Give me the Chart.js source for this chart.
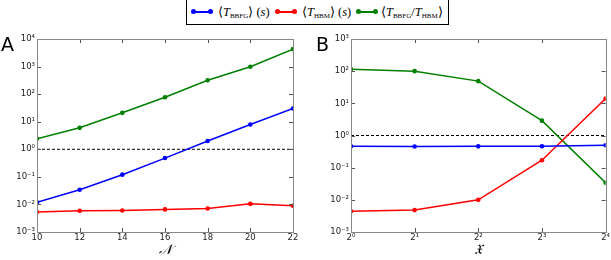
<!DOCTYPE html>
<html>
<head>
<meta charset="utf-8">
<script src="https://cdn.jsdelivr.net/npm/chart.js@4.4.0/dist/chart.umd.min.js"></script>
<style>
  body { margin: 0; background: #fff; width: 611px; height: 260px; position: relative; overflow: hidden; }
  canvas { position: absolute; top: 0; }
  .panel { position: absolute; font-family: "DejaVu Sans", sans-serif; font-size: 19px; color: #000; }
  #legend { position: absolute; left: 186px; top: -1px; width: 261px; height: 24px; border: 1px solid #000;
            font-family: "Liberation Serif", serif; font-size: 12.5px; background: #fff; }
  .item { position: absolute; top: 4px; white-space: nowrap; }
  .item i { font-style: italic; }
  .item sub { font-size: 7px; vertical-align: -2px; }
  .line { position: absolute; height: 2px; top: 11px; }
  .dot { position: absolute; width: 5px; height: 5px; border-radius: 50%; top: 9px; }
</style>
</head>
<body>
<canvas id="chartA" width="305" height="260" style="left:0"></canvas>
<canvas id="chartB" width="306" height="260" style="left:305px"></canvas>
<div class="panel" style="left:1px; top:33px">A</div>
<div class="panel" style="left:316px; top:33px">B</div>
<div id="legend"></div>
<script>
// Panel A: x = N
var nValues = [10, 12, 14, 16, 18, 20, 22];
var bbfgA = [0.012, 0.034, 0.12, 0.48, 2.0, 7.9, 30];
var hbmA = [0.0053, 0.0059, 0.006, 0.0066, 0.0071, 0.0105, 0.0089];
var ratioA = [2.4, 6.0, 21, 77, 320, 990, 4300];

// Panel B: x = fraktur X
var xValues = [1, 2, 4, 8, 16];
var bbfgB = [0.46, 0.455, 0.46, 0.465, 0.5];
var hbmB = [0.0044, 0.0048, 0.01, 0.17, 14];
var ratioB = [114, 100, 49, 2.9, 0.034];

var yTicksA = [1e-3, 1e-2, 1e-1, 1, 10, 100, 1000, 10000];
var yTicksB = [1e-3, 1e-2, 1e-1, 1, 10, 100, 1000];

var seriesNames = ['⟨T_BBFG⟩ (s)', '⟨T_HBM⟩ (s)', '⟨T_BBFG/T_HBM⟩'];
var colors = ['#0000ff', '#ff0000', '#008000'];

var sup = {'-': '⁻', '0': '⁰', '1': '¹', '2': '²', '3': '³', '4': '⁴', '5': '⁵', '6': '⁶', '7': '⁷', '8': '⁸', '9': '⁹'};
function superscript(n) {
    return String(n).split('').map(function(c) { return sup[c]; }).join('');
}

function pts(xs, ys) {
    return xs.map(function(x, i) { return {x: x, y: ys[i]}; });
}

// inward ticks and grey frame, matplotlib style
var framePlugin = {
    id: 'frame',
    afterDraw: function(chart) {
        var ctx = chart.ctx, a = chart.chartArea;
        var xs = chart.scales.x, ys = chart.scales.y;
        ctx.save();
        ctx.strokeStyle = '#555';
        ctx.lineWidth = 1;
        xs.ticks.forEach(function(t) {
            var p = Math.round(xs.getPixelForValue(t.value)) + 0.5;
            ctx.beginPath();
            ctx.moveTo(p, a.bottom); ctx.lineTo(p, a.bottom - 4);
            ctx.moveTo(p, a.top); ctx.lineTo(p, a.top + 4);
            ctx.stroke();
        });
        ys.ticks.forEach(function(t) {
            var p = Math.round(ys.getPixelForValue(t.value)) + 0.5;
            ctx.beginPath();
            ctx.moveTo(a.left, p); ctx.lineTo(a.left + 4, p);
            ctx.moveTo(a.right, p); ctx.lineTo(a.right - 4, p);
            ctx.stroke();
        });
        ctx.strokeStyle = '#888';
        ctx.strokeRect(Math.round(a.left) + 0.5, Math.round(a.top) + 0.5,
                       Math.round(a.right - a.left), Math.round(a.bottom - a.top));
        ctx.restore();
    }
};

function makeDatasets(xs, series, xMin, xMax) {
    var sets = series.map(function(s, i) {
        return {
            label: seriesNames[i],
            data: pts(xs, s),
            borderColor: colors[i],
            backgroundColor: colors[i],
            borderWidth: 1.5,
            pointRadius: 2.3,
            pointBorderWidth: 0
        };
    });
    sets.push({
        label: 'ref',
        data: [{x: xMin, y: 1}, {x: xMax, y: 1}],
        borderColor: '#000',
        borderWidth: 1,
        borderDash: [3, 2],
        pointRadius: 0
    });
    return sets;
}

var tickFont = { family: 'DejaVu Sans', size: 8.5 };

function yScale(ticks, axisWidth) {
    return {
        type: 'logarithmic',
        min: ticks[0],
        max: ticks[ticks.length - 1],
        afterBuildTicks: function(scale) {
            scale.ticks = ticks.map(function(v) { return {value: v}; });
        },
        afterFit: function(scale) { scale.width = axisWidth; },
        grid: { display: false, drawTicks: false },
        border: { display: false },
        ticks: {
            padding: 2,
            color: '#222',
            font: tickFont,
            callback: function(v) { return '10' + superscript(Math.round(Math.log10(v))); }
        }
    };
}

function xTitle(text) {
    return {
        display: true,
        text: text,
        color: '#000',
        font: { family: 'DejaVu Serif', size: 14, style: 'italic' },
        padding: { top: 0, bottom: 1 }
    };
}

var common = {
    responsive: false,
    animation: false,
    plugins: { legend: { display: false }, tooltip: { enabled: false } }
};

new Chart(document.getElementById('chartA'), {
    type: 'line',
    data: { datasets: makeDatasets(nValues, [bbfgA, hbmA, ratioA], 10, 22) },
    options: Object.assign({}, common, {
        layout: { padding: { left: 0, top: 39, right: 12, bottom: 0 } },
        scales: {
            x: {
                type: 'linear', min: 10, max: 22,
                afterBuildTicks: function(scale) {
                    scale.ticks = nValues.map(function(v) { return {value: v}; });
                },
                afterFit: function(scale) { scale.height = 28; },
                grid: { display: false, drawTicks: false },
                border: { display: false },
                ticks: { padding: 1, color: '#222', maxRotation: 0, font: tickFont },
                title: xTitle('𝒩')
            },
            y: yScale(yTicksA, 37)
        }
    }),
    plugins: [framePlugin]
});

new Chart(document.getElementById('chartB'), {
    type: 'line',
    data: { datasets: makeDatasets(xValues, [bbfgB, hbmB, ratioB], 1, 16) },
    options: Object.assign({}, common, {
        layout: { padding: { left: 0, top: 39, right: 4, bottom: 0 } },
        scales: {
            x: {
                type: 'logarithmic', min: 1, max: 16,
                afterBuildTicks: function(scale) {
                    scale.ticks = xValues.map(function(v) { return {value: v}; });
                },
                afterFit: function(scale) { scale.height = 28; },
                grid: { display: false, drawTicks: false },
                border: { display: false },
                ticks: {
                    padding: 1, color: '#222', maxRotation: 0, autoSkip: false,
                    font: tickFont,
                    callback: function(v) { return '2' + superscript(Math.round(Math.log2(v))); }
                },
                title: xTitle('𝔛')
            },
            y: yScale(yTicksB, 46)
        }
    }),
    plugins: [framePlugin]
});

// legend with subscripts
var legendHtml = [
    {left: 6, text: '⟨<i>T</i><sub>BBFG</sub>⟩ (<i>s</i>)', tx: 31},
    {left: 90, text: '⟨<i>T</i><sub>HBM</sub>⟩ (<i>s</i>)', tx: 115},
    {left: 171, text: '⟨<i>T</i><sub>BBFG</sub>/<i>T</i><sub>HBM</sub>⟩', tx: 194}
].map(function(e, i) {
    var c = colors[i];
    return '<div class="line" style="left:' + e.left + 'px;width:18px;background:' + c + '"></div>' +
           '<div class="dot" style="left:' + (e.left - 2) + 'px;background:' + c + '"></div>' +
           '<div class="dot" style="left:' + (e.left + 15) + 'px;background:' + c + '"></div>' +
           '<div class="item" style="left:' + e.tx + 'px">' + e.text + '</div>';
}).join('');
document.getElementById('legend').innerHTML = legendHtml;
</script>
</body>
</html>
